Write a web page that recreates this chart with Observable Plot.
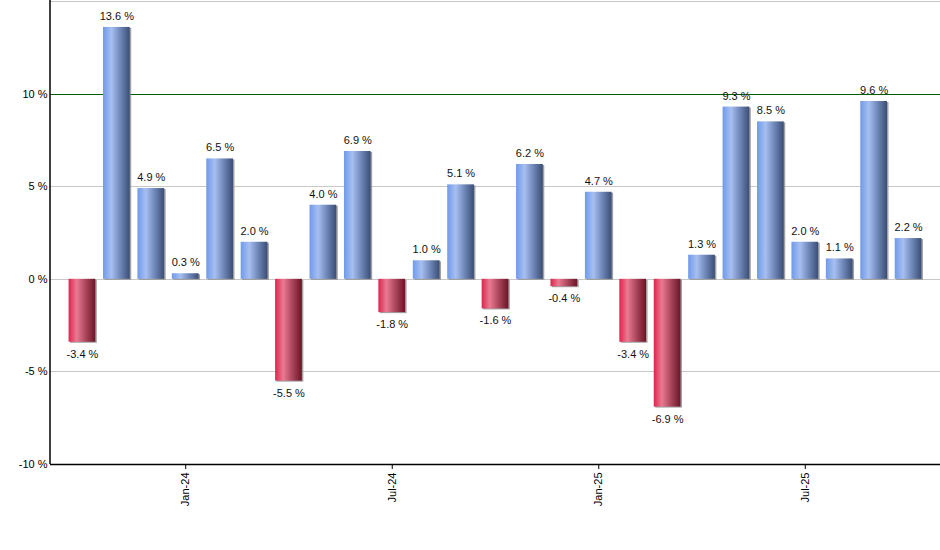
<!DOCTYPE html>
<html>
<head>
<meta charset="utf-8">
<script src="https://cdn.jsdelivr.net/npm/d3@7"></script>
<script src="https://cdn.jsdelivr.net/npm/@observablehq/plot@0.6"></script>
<style>
  html, body { margin: 0; padding: 0; background: #fff; }
</style>
</head>
<body>
<div id="chart"></div>
<script>
const months = ["Oct-23","Nov-23","Dec-23","Jan-24","Feb-24","Mar-24","Apr-24","May-24","Jun-24","Jul-24","Aug-24","Sep-24","Oct-24","Nov-24","Dec-24","Jan-25","Feb-25","Mar-25","Apr-25","May-25","Jun-25","Jul-25","Aug-25","Sep-25","Oct-25"];
const returns = [-3.4, 13.6, 4.9, 0.3, 6.5, 2.0, -5.5, 4.0, 6.9, -1.8, 1.0, 5.1, -1.6, 6.2, -0.4, 4.7, -3.4, -6.9, 1.3, 9.3, 8.5, 2.0, 1.1, 9.6, 2.2];
const yTicks = [-10, -5, 0, 5, 10];
const gridValues = [-5, 0, 5, 15];
const highlightValue = [10];
const xTicks = ["Jan-24", "Jul-24", "Jan-25", "Jul-25"];

const data = months.map((m, i) => ({month: m, value: returns[i]}));
const pos = data.filter(d => d.value >= 0);
const neg = data.filter(d => d.value < 0);

const W = 940, H = 550, ML = 50, MR = 0, MT = 1, MB = 86;

const chart = Plot.plot({
  width: W, height: H,
  marginLeft: ML, marginRight: MR, marginTop: MT, marginBottom: MB,
  style: {fontFamily: "'Liberation Sans', Arial, sans-serif", fontSize: "11px", color: "#000", background: "#fff"},
  x: {type: "band", domain: months, paddingInner: 0.224, paddingOuter: 0.54, round: false, ticks: xTicks, tickRotate: -90, tickSize: 5, tickPadding: 3, label: null},
  y: {domain: [-10, 15], ticks: yTicks, tickFormat: d => d + " %", tickSize: 0, tickPadding: 3, label: null},
  marks: [
    Plot.ruleY(gridValues, {stroke: "#c8c8c8", strokeWidth: 1, shapeRendering: "crispEdges"}),
    Plot.ruleY(highlightValue, {stroke: "#005a00", strokeWidth: 1, shapeRendering: "crispEdges"}),
    Plot.barY(data, {x: "month", y: "value", fill: "#8a8a8a", fillOpacity: 0.8, dx: 1.5, dy: 1}),
    Plot.barY(pos, {x: "month", y: "value", fill: "url(#gradPos)"}),
    Plot.barY(neg, {x: "month", y: "value", fill: "url(#gradNeg)"}),
    Plot.text(pos, {x: "month", y: "value", text: d => d.value.toFixed(1) + " %", dy: -11, fill: "#111", fontSize: 11}),
    Plot.text(neg, {x: "month", y: "value", text: d => d.value.toFixed(1) + " %", dy: 12, fill: "#111", fontSize: 11}),
    Plot.ruleY([-10], {stroke: "#000", strokeWidth: 1.5})
  ]
});

const svg = d3.select(chart);
const defs = svg.insert("defs", ":first-child");
function grad(id, stops) {
  const g = defs.append("linearGradient").attr("id", id)
    .attr("x1", "0").attr("y1", "0").attr("x2", "1").attr("y2", "0");
  stops.forEach(([o, c]) => g.append("stop").attr("offset", o).attr("stop-color", c));
}
grad("gradPos", [[0, "#6f9aea"], [0.32, "#a7bff0"], [0.65, "#6f87b8"], [1, "#3a4d74"]]);
grad("gradNeg", [[0, "#e0234c"], [0.3, "#e97a91"], [0.65, "#a8455a"], [1, "#6a1526"]]);
svg.append("line")
  .attr("x1", ML).attr("x2", ML).attr("y1", 0).attr("y2", H - MB)
  .attr("stroke", "#000").attr("stroke-width", 1.5);

document.getElementById("chart").appendChild(chart);
</script>
</body>
</html>
